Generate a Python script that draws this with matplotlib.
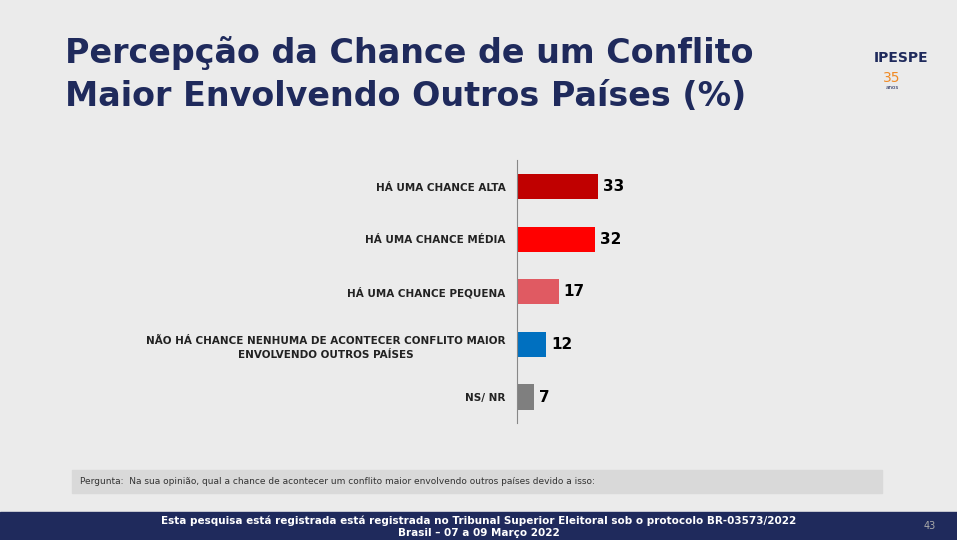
import matplotlib.pyplot as plt
from matplotlib.patches import Rectangle

categories = ["HÁ UMA CHANCE ALTA", "HÁ UMA CHANCE MÉDIA", "HÁ UMA CHANCE PEQUENA",
              "NÃO HÁ CHANCE NENHUMA DE ACONTECER CONFLITO MAIOR\nENVOLVENDO OUTROS PAÍSES",
              "NS/ NR"]
values = [33, 32, 17, 12, 7]
colors = ["#C00000", "#FF0000", "#E05A62", "#0070C0", "#7F7F7F"]

bg = "#EBEBEB"
navy = "#1F2A5C"
fig = plt.figure(figsize=(9.57, 5.4), dpi=100, facecolor=bg)

fig.text(0.068, 0.862, "Percepção da Chance de um Conflito\nMaior Envolvendo Outros Países (%)",
         fontsize=24, fontweight="bold", color=navy, va="center", ha="left",
         family="DejaVu Sans", linespacing=1.4)

# logo
fig.text(0.942, 0.885, "IPESPE", fontsize=10, fontweight="bold", color=navy, ha="center")
fig.text(0.932, 0.848, "35", fontsize=10, color="#F08A24", ha="center")
fig.text(0.932, 0.835, "anos", fontsize=4, color=navy, ha="center")

ax = fig.add_axes([0.540, 0.216, 0.418, 0.487])
ax.set_facecolor(bg)
y = list(range(len(values)))
ax.barh(y, values, color=colors, height=0.48)
for yi, v in zip(y, values):
    ax.text(v + 2, yi, str(v), va="center", ha="left", fontsize=11, fontweight="bold", color="black")
ax.set_xlim(0, 163)
ax.set_ylim(4.5, -0.5)
ax.set_yticks(y)
ax.set_yticklabels(categories, fontsize=7.5, fontweight="bold", color="#222222", ha="right",
                   multialignment="center", linespacing=1.6)
ax.tick_params(axis="y", length=0, pad=8)
ax.set_xticks([])
for s in ["top", "right", "bottom"]:
    ax.spines[s].set_visible(False)
ax.spines["left"].set_color("#888888")

fig.patches.append(Rectangle((72 / 957, 1 - 493 / 540), 810 / 957, 23 / 540,
                             transform=fig.transFigure, color="#D9D9D9", zorder=0))
fig.text(80 / 957, 1 - 482 / 540,
         "Pergunta:  Na sua opinião, qual a chance de acontecer um conflito maior envolvendo outros países devido a isso:",
         fontsize=6.5, color="#333333", va="center")

fig.patches.append(Rectangle((0, 0), 1, 28 / 540, transform=fig.transFigure, color=navy, zorder=0))
fig.text(0.5, 19 / 540, "Esta pesquisa está registrada está registrada no Tribunal Superior Eleitoral sob o protocolo BR-03573/2022",
         fontsize=7.5, fontweight="bold", color="white", ha="center", va="center")
fig.text(0.5, 7 / 540, "Brasil – 07 a 09 Março 2022",
         fontsize=7.5, fontweight="bold", color="white", ha="center", va="center")
fig.text(930 / 957, 14 / 540, "43", fontsize=7, color="#AAAAAA", ha="center", va="center")

fig.savefig("out.png", dpi=100, facecolor=bg)
